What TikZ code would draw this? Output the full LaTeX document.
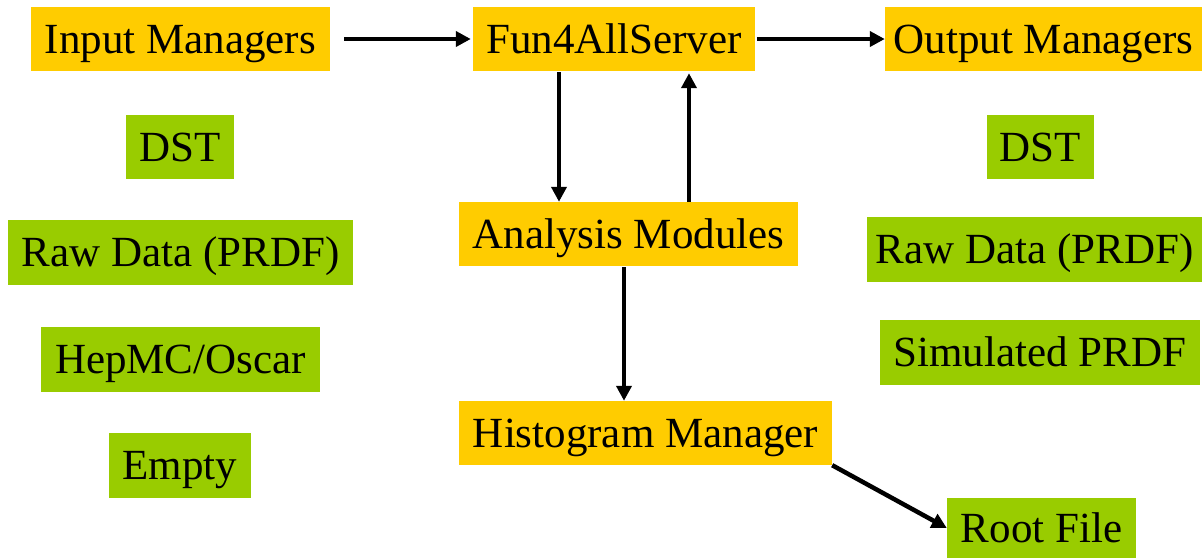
\documentclass[tikz,border=0pt]{standalone}
\usepackage{fontspec}
\setmainfont{Liberation Serif}
\usetikzlibrary{arrows.meta}
\definecolor{boxorange}{HTML}{FFCC00}
\definecolor{boxgreen}{HTML}{99CC00}
\begin{document}
\begin{tikzpicture}[x=1pt,y=-1pt,
  bx/.style={inner sep=0pt, minimum height=64pt, text height=28.5pt, text depth=0pt, font=\fontsize{43}{50}\selectfont},
  orangebox/.style={bx, fill=boxorange},
  greenbox/.style={bx, fill=boxgreen},
  arr/.style={line width=4.5pt, -{Triangle[length=15pt,width=15pt]}}]
\useasboundingbox (0,0) rectangle (1202,558);
% top row
\node[orangebox, minimum width=299pt] (in) at (180.5,39) {Input Managers};
\node[orangebox, minimum width=282pt] (f4a) at (614,39) {Fun4AllServer};
\node[orangebox, minimum width=317pt] (out) at (1043.5,39) {Output Managers};
% input list
\node[greenbox, minimum width=108pt] (dstL) at (180,147) {DST};
\node[greenbox, minimum width=345pt, minimum height=65pt] (rawL) at (180.5,252.5) {Raw Data (PRDF)};
\node[greenbox, minimum width=279pt, minimum height=65pt] (hep) at (180.5,359.5) {HepMC/Oscar};
\node[greenbox, minimum width=142pt, minimum height=65pt] (empty) at (180,465.5) {Empty};
% middle
\node[orangebox, minimum width=339pt] (ana) at (628.5,234) {Analysis Modules};
\node[orangebox, minimum width=373pt] (hist) at (645.5,433) {Histogram Manager};
% output list
\node[greenbox, minimum width=107pt] (dstR) at (1040.5,147) {DST};
\node[greenbox, minimum width=335pt, minimum height=65pt] (rawR) at (1034.5,249.5) {Raw Data (PRDF)};
\node[greenbox, minimum width=320pt, minimum height=65pt] (sim) at (1040,352.5) {Simulated PRDF};
\node[greenbox, minimum width=189pt, minimum height=60pt] (root) at (1041.5,528) {Root File};
% connectors
\coordinate (xa) at (559,0);
\coordinate (xb) at (689,0);
\coordinate (xc) at (624,0);
\draw[arr, shorten <=14pt, shorten >=2pt] (in.east) -- (f4a.west);
\draw[arr, shorten <=2pt] (f4a.east) -- (out.west);
\draw[arr, shorten <=1pt] (xa |- f4a.south) -- (xa |- ana.north);
\draw[arr, shorten >=2pt] (xb |- ana.north) -- (xb |- f4a.south);
\draw[arr, shorten <=1pt] (xc |- ana.south) -- (xc |- hist.north);
\draw[arr] (hist.south east) -- (root.west);
\end{tikzpicture}
\end{document}
